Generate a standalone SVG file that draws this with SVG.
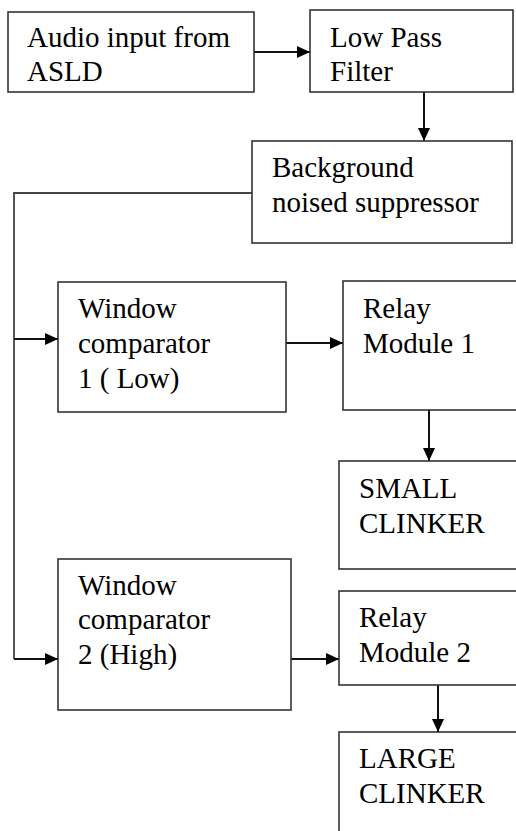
<svg xmlns="http://www.w3.org/2000/svg" width="516" height="831" viewBox="0 0 516 831">
<style>
.box{fill:#fff;stroke:#333;stroke-width:1.6}
text{font-family:"Times New Roman","Liberation Serif","Noto Serif","DejaVu Serif",Times,serif;font-size:29px;fill:#000}
.ln{fill:none;stroke:#111;stroke-width:2}
.ln2{fill:none;stroke:#444;stroke-width:1.8}
</style>
<defs>
<marker id="ah" markerUnits="userSpaceOnUse" markerWidth="14" markerHeight="12" refX="13" refY="6" orient="auto">
<path d="M0,0 L13,6 L0,12 z" fill="#000"/>
</marker>
</defs>
<rect width="516" height="831" fill="#fff"/>
<g id="connectors">
<line class="ln" x1="254" y1="52" x2="310" y2="52" marker-end="url(#ah)"/>
<line class="ln" x1="424" y1="92" x2="424" y2="141" marker-end="url(#ah)"/>
<polyline class="ln2" points="252,193 14,193 14,659"/>
<line class="ln" x1="14" y1="339" x2="58" y2="339" marker-end="url(#ah)"/>
<line class="ln" x1="14" y1="659" x2="58" y2="659" marker-end="url(#ah)"/>
<line class="ln" x1="286" y1="343" x2="343" y2="343" marker-end="url(#ah)"/>
<line class="ln" x1="429" y1="410" x2="429" y2="461" marker-end="url(#ah)"/>
<line class="ln" x1="291" y1="659" x2="339" y2="659" marker-end="url(#ah)"/>
<line class="ln" x1="438" y1="685" x2="438" y2="732" marker-end="url(#ah)"/>
</g>
<g id="audio">
<rect class="box" x="8" y="12" width="246" height="80"/>
<text x="27" y="47">Audio input from</text>
<text x="27" y="81">ASLD</text>
</g>
<g id="lpf">
<rect class="box" x="310" y="10" width="203" height="82"/>
<text x="330" y="47">Low Pass</text>
<text x="330" y="81">Filter</text>
</g>
<g id="bns">
<rect class="box" x="252" y="141" width="260" height="102"/>
<text x="272" y="177">Background</text>
<text x="272" y="212">noised suppressor</text>
</g>
<g id="wc1">
<rect class="box" x="58" y="282" width="228" height="130"/>
<text x="78" y="318">Window</text>
<text x="78" y="353">comparator</text>
<text x="78" y="388">1 ( Low)</text>
</g>
<g id="relay1">
<rect class="box" x="343" y="281" width="200" height="129"/>
<text x="363" y="318">Relay</text>
<text x="363" y="353">Module 1</text>
</g>
<g id="small">
<rect class="box" x="339" y="461" width="200" height="108"/>
<text x="359" y="498">SMALL</text>
<text x="359" y="533">CLINKER</text>
</g>
<g id="wc2">
<rect class="box" x="58" y="559" width="233" height="151"/>
<text x="78" y="595">Window</text>
<text x="78" y="629">comparator</text>
<text x="78" y="664">2 (High)</text>
</g>
<g id="relay2">
<rect class="box" x="339" y="591" width="200" height="94"/>
<text x="359" y="627">Relay</text>
<text x="359" y="662">Module 2</text>
</g>
<g id="large">
<rect class="box" x="339" y="732" width="200" height="120"/>
<text x="359" y="768">LARGE</text>
<text x="359" y="803">CLINKER</text>
</g>
</svg>
